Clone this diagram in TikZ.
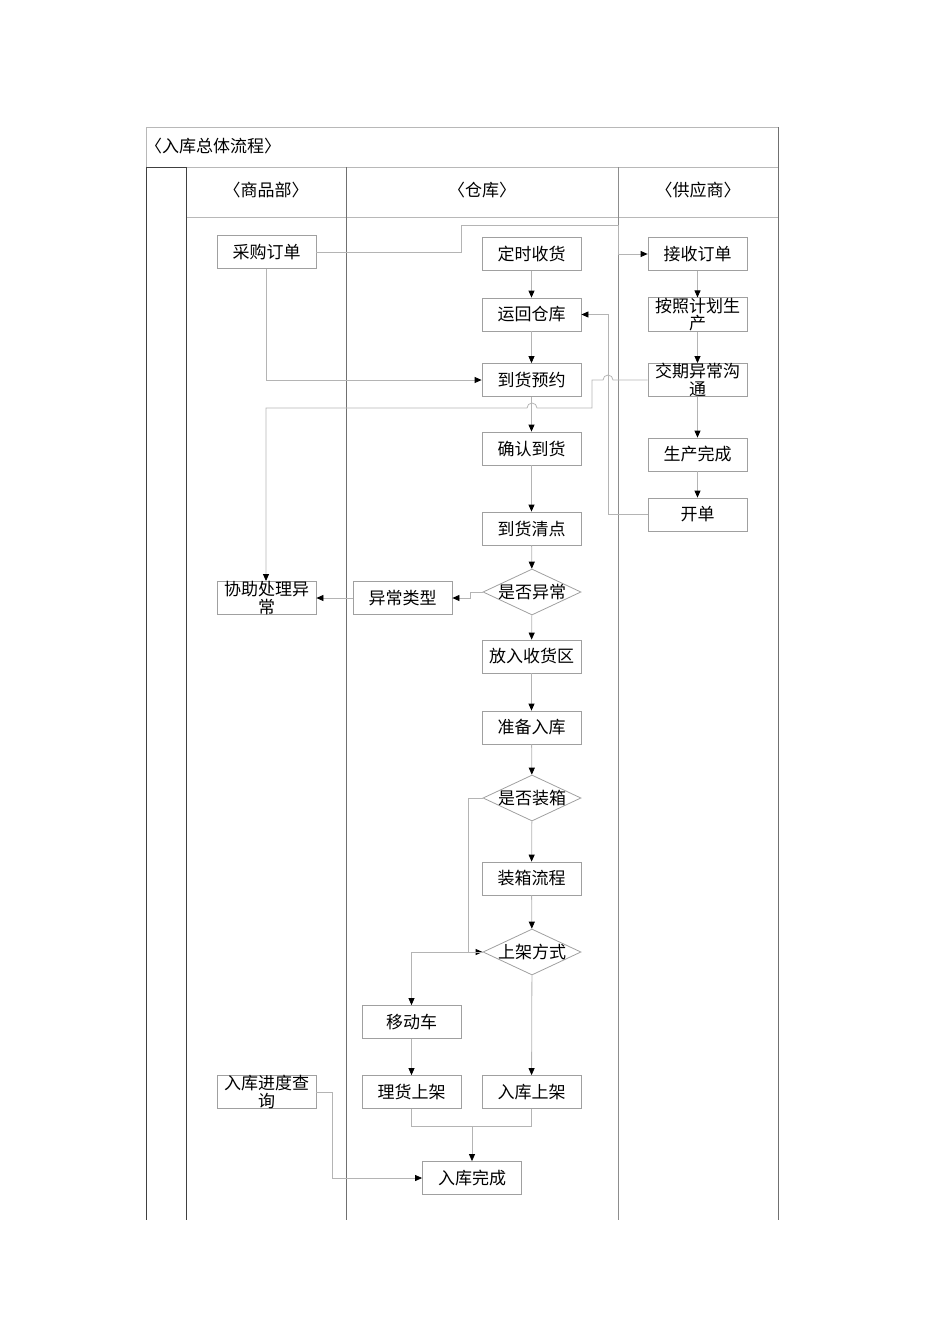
\documentclass[tikz,border=0pt]{standalone}
\usepackage{fontspec}
\setmainfont{Noto Sans CJK SC}
\usetikzlibrary{arrows.meta,shapes.geometric}
\definecolor{boxgray}{HTML}{A0A0A0}
\definecolor{linegray}{HTML}{B4B4B4}
\definecolor{framegray}{HTML}{B8B8B8}
\definecolor{lanedark}{HTML}{404040}
\definecolor{lanemid}{HTML}{707070}
\begin{document}
\begin{tikzpicture}[x=1pt,y=-1pt,
  every node/.style={font=\fontsize{17}{17.5}\selectfont},
  box/.style={draw=boxgray, line width=0.8pt, minimum width=99pt, minimum height=33pt, inner sep=0pt, align=center},
  dia/.style={draw=boxgray, line width=0.8pt, diamond, minimum width=98pt, minimum height=46pt, inner sep=0pt},
  conn/.style={draw=linegray, line width=0.8pt},
  arr/.style={conn, -{Triangle[length=7pt,width=6pt,fill=black,color=black]}},
  hdr/.style={font=\fontsize{17}{17.5}\selectfont}
]
\useasboundingbox (0,0) rectangle (950,1344);
% frame
\draw[framegray, line width=0.8pt] (146,127) -- (778,127);
\draw[framegray, line width=0.8pt] (146,127) -- (146,167);
\draw[framegray, line width=0.8pt] (186,167) -- (778,167);
\draw[framegray, line width=0.8pt] (186,217) -- (778,217);
\draw[lanedark, line width=0.9pt] (146,167) -- (186,167);
\draw[lanedark, line width=0.9pt] (146,167) -- (146,1220);
\draw[lanedark, line width=0.9pt] (186,167) -- (186,1220);
\draw[lanemid, line width=0.8pt] (346,167) -- (346,1220);
\draw[lanemid!80, line width=0.8pt] (618,167) -- (618,1220);
\draw[lanemid, line width=0.8pt] (778,127) -- (778,1220);
% titles
\node[hdr, anchor=west, inner sep=0pt] (title) at (145,146) {〈入库总体流程〉};
\node[hdr] (h1) at (266,190) {〈商品部〉};
\node[hdr] (h2) at (482,190) {〈仓库〉};
\node[hdr] (h3) at (698,190) {〈供应商〉};
% nodes
\node[box] (cg) at (266.5,252) {采购订单};
\node[box] (ds) at (531.5,254) {定时收货};
\node[box] (js) at (697.5,254) {接收订单};
\node[box] (yh) at (531.5,314.5) {运回仓库};
\node[box] (aj) at (697.5,314.5) {按照计划生\\产};
\node[box] (dy) at (531.5,380) {到货预约};
\node[box] (jq) at (697.5,380) {交期异常沟\\通};
\node[box] (qr) at (531.5,448.5) {确认到货};
\node[box] (sc) at (697.5,454.5) {生产完成};
\node[box] (kd) at (697.5,514.5) {开单};
\node[box] (qd) at (531.5,528.5) {到货清点};
\node[dia, label=center:是否异常] (yc) at (532,592) {};
\node[box] (lx) at (402.5,598) {异常类型};
\node[box] (xz) at (266.5,598) {协助处理异\\常};
\node[box] (fr) at (531.5,656.5) {放入收货区};
\node[box] (zb) at (531.5,727.5) {准备入库};
\node[dia, label=center:是否装箱] (zx) at (532,798) {};
\node[box] (zl) at (531.5,878.5) {装箱流程};
\node[dia, label=center:上架方式] (sj) at (532,952) {};
\node[box] (yd) at (411.5,1022) {移动车};
\node[box] (lh) at (411.5,1092) {理货上架};
\node[box] (rk) at (531.5,1092) {入库上架};
\node[box] (wc) at (472,1178) {入库完成};
\node[box] (cx) at (266.5,1092) {入库进度查\\询};
% helper coordinates
\coordinate (m1) at (472,1126);
% connectors
\draw[arr] (cg.east) -- (461,252) -- (461,225) -- (618,225) -- (618,254) -- (js.west);
\draw[arr] (ds) -- (yh);
\draw[arr] (yh) -- (dy);
\draw[arr] (dy) -- (qr);
\draw[arr] (qr) -- (qd);
\draw[arr] (qd) -- (yc);
\draw[arr] (yc) -- (fr);
\draw[arr] (fr) -- (zb);
\draw[arr] (zb) -- (zx);
\draw[arr] (zx) -- (zl);
\draw[arr] (zl) -- (sj);
\draw[arr] (sj) -- (rk);
\draw[arr] (js) -- (aj);
\draw[arr] (aj) -- (jq);
\draw[arr] (jq) -- (sc);
\draw[arr] (sc) -- (kd);
\draw[arr] (cg.south) |- (dy.west);
\draw[arr] (jq.west) -- (613,380) arc[start angle=0,end angle=180,radius=5pt] -- (592,380) -- (592,408) -- (537,408) arc[start angle=0,end angle=180,radius=5pt] -- (266,408) -- (xz.north -| 266,0);
\draw[arr] (kd.west) -- (608,514.5) |- (yh.east);
\draw[arr] (yc.west) -- (470,592) -- (470,598) -- (lx.east);
\draw[arr] (lx.west) -- (xz.east);
\draw[arr] (zx.west) -- (468,798) |- (sj.west);
\draw[arr] (sj.west) -| (yd.north);
\draw[arr] (yd) -- (lh);
\draw[conn] (lh.south) |- (m1) -| (rk.south);
\draw[arr] (m1) -- (wc.north);
\draw[arr] (cx.east) -- (332,1092) |- (wc.west);
\end{tikzpicture}
\end{document}
